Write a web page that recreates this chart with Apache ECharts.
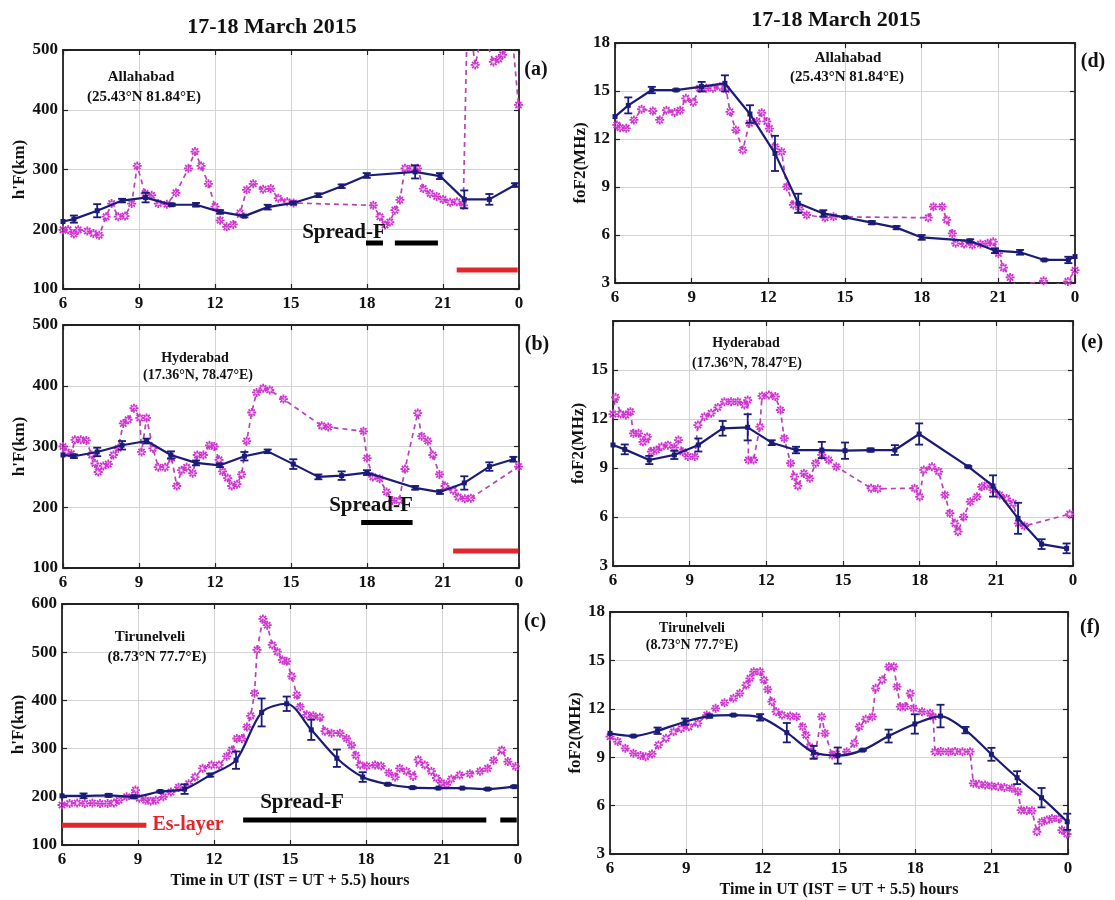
<!DOCTYPE html>
<html><head><meta charset="utf-8">
<script src="https://cdn.jsdelivr.net/npm/echarts@6/dist/echarts.min.js"></script>
<style>html,body{margin:0;padding:0;background:#fff}#c{width:1115px;height:900px}</style>
</head><body><div id="c"></div>
<script>
// ---------- DATA ----------
const xTicks = [6, 9, 12, 15, 18, 21, 24];
// Panel (a) Allahabad h'F
const blueA_t = [6.0, 6.43, 7.35, 8.33, 9.26, 10.29, 11.25, 12.2, 13.16, 14.08, 15.09, 16.08, 17.0, 17.99, 19.9, 20.88, 21.84, 22.83, 23.84];
const blueA_v = [213, 217, 231, 248, 253, 241, 241, 229, 222, 237, 244, 257, 272, 290, 296, 289, 250, 250, 274];
const blueA_e = [0, 6, 11, 3, 8, 2, 3, 3, 2, 4, 2, 3, 3, 4, 11, 5, 15, 9, 3];
const magA = [[6.0,199],[6.2,199],[6.43,192],[6.6,199],[6.96,197],[7.2,193],[7.43,190],[7.7,221],[7.92,243],[8.18,221],[8.45,222],[8.71,243],[8.93,306],[9.24,260],[9.5,257],[9.76,243],[10.1,242],[10.46,261],[10.95,302],[11.21,330],[11.45,306],[11.74,276],[12.0,238],[12.2,215],[12.46,204],[12.72,208],[12.99,227],[13.25,266],[13.51,276],[13.9,267],[14.2,268],[14.5,252],[14.85,246],[15.1,244],[18.25,240],[18.51,221],[18.71,207],[18.9,212],[19.1,232],[19.3,249],[19.5,302],[19.76,302],[20.0,302],[20.22,268],[20.49,260],[20.75,255],[21.0,250],[21.28,245],[21.55,246],[21.8,240],[21.94,520],[22.1,530],[22.27,475],[22.5,520],[22.75,510],[22.99,480],[23.2,485],[23.35,492],[23.55,520],[23.75,515],[23.98,408]];
const spreadA = [[17.96,18.63],[19.1,20.8]];
const redA = [[21.54,23.95]];
// Panel (b) Hyderabad h'F
const blueB_t = [6.0, 6.43, 7.35, 8.33, 9.3, 10.26, 11.25, 12.2, 13.16, 14.08, 15.09, 16.08, 17.0, 18.0, 19.9, 20.88, 21.84, 22.83, 23.78];
const blueB_v = [286, 284, 291, 302, 309, 286, 273, 269, 284, 292, 271, 250, 252, 257, 232, 225, 240, 267, 279];
const blueB_e = [0, 3, 7, 7, 4, 6, 4, 3, 7, 3, 8, 4, 7, 4, 3, 3, 11, 7, 4];
const magB = [[6.0,300],[6.13,291],[6.33,288],[6.47,311],[6.7,311],[6.92,310],[7.13,286],[7.26,272],[7.39,258],[7.59,268],[7.79,271],[7.99,286],[8.18,297],[8.38,338],[8.57,344],[8.8,363],[9.03,347],[9.1,291],[9.3,347],[9.55,297],[9.76,266],[10.03,266],[10.29,281],[10.49,235],[10.68,261],[10.88,266],[11.12,256],[11.3,286],[11.54,286],[11.78,302],[11.97,300],[12.16,278],[12.3,259],[12.5,248],[12.66,235],[12.87,238],[13.05,254],[13.25,309],[13.45,356],[13.64,389],[13.9,396],[14.16,393],[14.7,378],[16.21,334],[16.47,332],[17.86,325],[18.0,281],[18.23,250],[18.5,247],[18.77,225],[19.0,211],[19.27,211],[19.5,263],[20.0,355],[20.16,317],[20.4,309],[20.6,286],[20.86,254],[21.08,235],[21.4,228],[21.6,217],[21.86,214],[22.1,215],[23.98,267]];
const spreadB = [[17.77,19.8]];
const redB = [[21.4,23.98]];
// Panel (c) Tirunelveli h'F
const blueC_t = [6.0, 6.85, 7.84, 8.83, 9.88, 10.84, 11.85, 12.87, 13.88, 14.87, 15.84, 16.85, 17.87, 18.86, 19.84, 20.85, 21.8, 22.8, 23.85];
const blueC_v = [202, 202, 203, 200, 211, 216, 245, 276, 375, 393, 339, 280, 241, 226, 219, 218, 218, 216, 221];
const blueC_e = [0, 5, 3, 3, 2, 10, 3, 18, 29, 15, 21, 18, 10, 2, 2, 1, 1, 2, 2];
const magC = [[6.0,183],[6.3,186],[6.6,187],[6.9,186],[7.2,187],[7.5,186],[7.8,186],[8.05,187],[8.25,193],[8.55,200],[8.9,214],[9.05,197],[9.3,193],[9.5,191],[9.7,193],[10.0,200],[10.3,210],[10.6,220],[11.0,227],[11.25,241],[11.55,259],[11.9,266],[12.2,266],[12.5,284],[12.7,297],[12.9,321],[13.1,321],[13.3,345],[13.45,368],[13.6,415],[13.7,505],[13.93,569],[14.1,556],[14.3,515],[14.5,501],[14.7,484],[14.87,481],[15.07,450],[15.27,411],[15.4,387],[15.66,370],[15.92,368],[16.18,365],[16.38,336],[16.64,332],[16.97,332],[17.23,321],[17.43,307],[17.6,286],[17.77,266],[18.03,264],[18.36,266],[18.6,264],[18.9,250],[19.15,241],[19.33,259],[19.6,253],[19.86,242],[20.06,277],[20.32,266],[20.58,253],[20.78,239],[20.98,229],[21.18,225],[21.37,237],[21.7,245],[22.1,248],[22.5,253],[22.8,259],[23.04,276],[23.36,297],[23.6,273],[23.9,263]];
const spreadC = [[13.15,22.75],[23.3,23.95]];
const redC = [[6.0,9.33]];
// Panel (d) Allahabad foF2
const blueD_t = [6.0, 6.52, 7.44, 8.39, 9.39, 10.3, 11.28, 12.26, 13.17, 14.15, 15.0, 16.05, 17.02, 18.0, 19.9, 20.87, 21.85, 22.8, 23.74, 24.0];
const blueD_v = [13.4, 14.1, 15.06, 15.06, 15.27, 15.48, 13.56, 11.1, 7.98, 7.35, 7.1, 6.77, 6.46, 5.85, 5.63, 5.02, 4.92, 4.44, 4.44, 4.65];
const blueD_e = [0, 0.5, 0.2, 0.05, 0.3, 0.5, 0.55, 1.1, 0.6, 0.2, 0.05, 0.1, 0.1, 0.15, 0.1, 0.15, 0.15, 0.05, 0.2, 0];
const magD = [[6.07,12.88],[6.2,12.7],[6.44,12.67],[6.74,13.19],[7.04,13.86],[7.48,13.75],[7.75,13.19],[8.01,13.8],[8.33,13.66],[8.55,13.8],[8.77,14.54],[9.06,14.3],[9.31,15.17],[9.57,15.17],[9.83,15.17],[10.1,15.27],[10.35,15.1],[10.5,13.7],[10.73,12.56],[11.0,11.31],[11.26,12.98],[11.55,13.1],[11.74,13.64],[11.94,13.1],[12.04,12.65],[12.26,11.52],[12.52,11.2],[12.72,9.02],[12.98,7.88],[13.23,7.6],[13.5,7.25],[14.22,7.08],[14.55,7.14],[18.26,7.08],[18.46,7.77],[18.8,7.77],[18.98,6.94],[19.2,6.1],[19.33,5.48],[19.66,5.44],[19.98,5.38],[20.3,5.44],[20.58,5.48],[20.8,5.58],[21.0,4.85],[21.2,3.96],[21.46,3.35],[21.7,2.8],[22.77,3.14],[23.0,2.8],[23.72,3.1],[24.0,3.8]];
// Panel (e) Hyderabad foF2
const blueE_t = [6.0, 6.46, 7.42, 8.4, 9.34, 10.29, 11.27, 12.21, 13.16, 14.17, 15.08, 16.08, 17.03, 17.98, 19.9, 20.87, 21.85, 22.77, 23.75];
const blueE_v = [10.41, 10.14, 9.49, 9.8, 10.41, 11.43, 11.49, 10.55, 10.1, 10.1, 10.06, 10.1, 10.1, 11.08, 9.08, 7.9, 5.92, 4.34, 4.08];
const blueE_e = [0, 0.3, 0.25, 0.25, 0.4, 0.45, 0.8, 0.15, 0.2, 0.5, 0.5, 0.1, 0.3, 0.65, 0.05, 0.65, 0.95, 0.3, 0.3];
const magE = [[6.0,12.3],[6.1,13.33],[6.3,12.3],[6.5,12.25],[6.68,12.45],[6.8,11.12],[7.0,11.12],[7.17,10.6],[7.34,10.9],[7.5,10.0],[7.7,10.1],[7.9,10.3],[8.15,10.4],[8.4,10.25],[8.56,10.71],[8.73,10.0],[8.93,9.7],[9.2,9.7],[9.32,11.63],[9.58,12.14],[9.84,12.35],[10.1,12.71],[10.36,13.06],[10.62,13.06],[10.88,13.06],[11.14,12.86],[11.27,13.16],[11.3,9.49],[11.5,9.49],[11.75,11.53],[11.83,13.41],[12.1,13.47],[12.35,13.37],[12.55,12.55],[12.7,10.82],[12.95,9.29],[13.1,8.47],[13.23,7.9],[13.47,8.67],[13.7,8.37],[13.93,9.29],[14.17,9.8],[14.44,9.49],[14.74,9.08],[16.1,7.76],[16.36,7.73],[17.8,7.76],[18.0,7.24],[18.16,8.88],[18.48,9.08],[18.74,8.78],[18.99,7.35],[19.18,6.23],[19.38,5.61],[19.5,5.1],[19.72,6.0],[19.98,6.94],[20.24,7.24],[20.43,7.85],[20.63,7.95],[20.87,7.65],[21.13,7.35],[21.4,7.14],[21.66,6.84],[21.86,5.61],[22.1,5.45],[23.87,6.18]];
// Panel (f) Tirunelveli foF2
const blueF_t = [6.0, 6.92, 7.87, 8.95, 9.9, 10.85, 11.9, 12.95, 14.0, 14.95, 15.93, 16.95, 17.98, 18.99, 19.97, 20.99, 22.0, 22.96, 23.97];
const blueF_v = [10.48, 10.31, 10.64, 11.2, 11.55, 11.61, 11.47, 10.52, 9.3, 9.1, 9.44, 10.31, 11.06, 11.55, 10.68, 9.18, 7.73, 6.49, 5.0];
const blueF_e = [0, 0.05, 0.2, 0.2, 0.1, 0.05, 0.2, 0.6, 0.4, 0.5, 0.05, 0.4, 0.6, 0.7, 0.2, 0.4, 0.4, 0.6, 0.5];
const magF = [[6.0,10.27],[6.3,9.97],[6.6,9.55],[6.92,9.24],[7.2,9.1],[7.4,9.03],[7.65,9.2],[7.9,9.76],[8.2,10.17],[8.5,10.58],[8.8,10.78],[9.1,10.89],[9.45,11.1],[9.8,11.61],[10.15,12.03],[10.5,12.38],[10.85,12.65],[11.1,12.96],[11.35,13.47],[11.5,13.89],[11.65,14.3],[11.9,14.3],[12.05,13.79],[12.2,13.2],[12.36,12.44],[12.53,11.82],[12.76,11.61],[13.08,11.55],[13.33,11.51],[13.57,10.89],[13.7,10.37],[13.85,9.65],[14.05,9.13],[14.32,11.51],[14.45,10.48],[14.73,9.13],[14.9,9.2],[15.3,9.34],[15.6,9.86],[15.8,10.89],[16.05,11.35],[16.31,11.51],[16.44,13.27],[16.7,13.79],[16.96,14.61],[17.15,14.61],[17.28,13.37],[17.41,12.13],[17.6,12.13],[17.8,12.96],[17.93,12.03],[18.26,11.82],[18.58,11.72],[18.7,11.51],[18.77,9.34],[19.0,9.36],[19.3,9.34],[19.56,9.36],[19.85,9.34],[20.15,9.34],[20.28,7.38],[20.5,7.32],[20.74,7.28],[21.0,7.22],[21.26,7.17],[21.5,7.12],[21.79,7.07],[22.03,6.86],[22.16,5.72],[22.38,5.7],[22.58,5.68],[22.78,4.38],[22.97,5.0],[23.17,5.1],[23.37,5.2],[23.63,5.2],[23.76,4.48],[23.96,4.24]];

// ---------- STYLE ----------
const FONT = "'Liberation Serif','Times New Roman',serif";
const NAVY = '#1b1b78';
const MAG = '#d232d2';
const MAGLINE = '#b544b5';
const AST = 'path://M-1,-5L1,-5L1,5L-1,5Z M-5,-1L5,-1L5,1L-5,1Z M2.8,4.2L4.2,2.8L-2.8,-4.2L-4.2,-2.8Z M4.2,-2.8L2.8,-4.2L-4.2,2.8L-2.8,4.2Z';

const panels = [
  {grid:{left:63, top:50, width:456, height:239}, ymin:100, ymax:500, yint:100, yname:"h'F(km)", gap:32,
   bt:blueA_t, bv:blueA_v, be:blueA_e, mag:magA, spread:spreadA, spLvl:177, red:redA, redLvl:132},
  {grid:{left:63, top:325, width:456, height:243}, ymin:100, ymax:500, yint:100, yname:"h'F(km)", gap:32,
   bt:blueB_t, bv:blueB_v, be:blueB_e, mag:magB, spread:spreadB, spLvl:175, red:redB, redLvl:128},
  {grid:{left:62, top:604, width:456, height:241}, ymin:100, ymax:600, yint:100, yname:"h'F(km)", gap:32, smooth:true,
   bt:blueC_t, bv:blueC_v, be:blueC_e, mag:magC, spread:spreadC, spLvl:152, red:redC, redLvl:141, xname:true},
  {grid:{left:615, top:43, width:460, height:240}, ymin:3, ymax:18, yint:3, yname:"foF2(MHz)", gap:19,
   bt:blueD_t, bv:blueD_v, be:blueD_e, mag:magD},
  {grid:{left:613, top:321, width:460, height:245}, ymin:3, ymax:18, yint:3, yname:"foF2(MHz)", gap:19, hideTop:true,
   bt:blueE_t, bv:blueE_v, be:blueE_e, mag:magE},
  {grid:{left:610, top:612, width:458, height:242}, ymin:3, ymax:18, yint:3, yname:"foF2(MHz)", gap:19, smooth:true,
   bt:blueF_t, bv:blueF_v, be:blueF_e, mag:magF, xname:true}
];

const grids = [], xAxes = [], yAxes = [], series = [];
const axisLine = {show:true, lineStyle:{color:'#222', width:1.8}};
const tick = {show:true, inside:true, length:5, lineStyle:{color:'#222', width:1.2}};
const lbl = {fontFamily:FONT, fontWeight:'bold', fontSize:17, color:'#111'};

panels.forEach((p, i) => {
  grids.push(Object.assign({containLabel:false}, p.grid));
  xAxes.push({type:'value', gridIndex:i, min:6, max:24, interval:3, position:'bottom',
    axisLine, axisTick:tick,
    axisLabel:Object.assign({margin:6, formatter:v => v === 24 ? '0' : String(v)}, lbl),
    splitLine:{show:true, lineStyle:{color:'#d4d4d4', width:1}},
    name: p.xname ? 'Time in UT (IST = UT + 5.5) hours' : '', nameLocation:'middle', nameGap:28,
    nameTextStyle:{fontFamily:FONT, fontWeight:'bold', fontSize:16, color:'#111'}});
  xAxes.push({type:'value', gridIndex:i, min:6, max:24, interval:3, position:'top',
    axisLine, axisTick:tick, axisLabel:{show:false}, splitLine:{show:false}});
  yAxes.push({type:'value', gridIndex:i, min:p.ymin, max:p.ymax, interval:p.yint, position:'left',
    axisLine, axisTick:tick,
    axisLabel:Object.assign({margin:5, formatter:v => (p.hideTop && v === p.ymax) ? '' : String(v)}, lbl),
    splitLine:{show:true, lineStyle:{color:'#d4d4d4', width:1}},
    name:p.yname, nameLocation:'middle', nameRotate:90, nameGap:p.gap,
    nameTextStyle:{fontFamily:FONT, fontWeight:'bold', fontSize:17, color:'#111'}});
  yAxes.push({type:'value', gridIndex:i, min:p.ymin, max:p.ymax, interval:p.yint, position:'right',
    axisLine, axisTick:tick, axisLabel:{show:false}, splitLine:{show:false}});

  const xi = 2*i, yi = 2*i;
  (p.spread || []).forEach(s => series.push({type:'line', xAxisIndex:xi, yAxisIndex:yi, symbol:'none', silent:true,
    data:[[s[0], p.spLvl],[s[1], p.spLvl]], lineStyle:{color:'#000', width:5}, z:2}));
  (p.red || []).forEach(s => series.push({type:'line', xAxisIndex:xi, yAxisIndex:yi, symbol:'none', silent:true,
    data:[[s[0], p.redLvl],[s[1], p.redLvl]], lineStyle:{color:'#e3262b', width:5}, z:2}));
  series.push({type:'line', xAxisIndex:xi, yAxisIndex:yi, data:p.mag, clip:true,
    symbol:AST, symbolSize:9, showAllSymbol:true,
    itemStyle:{color:MAG}, lineStyle:{color:MAGLINE, width:1.7, type:[5,4]}, z:3});
  series.push({type:'line', xAxisIndex:xi, yAxisIndex:yi, data:p.bt.map((t,k)=>[t, p.bv[k]]),
    smooth: p.smooth ? 0.3 : false, clip:true,
    symbol:'rect', symbolSize:5, showAllSymbol:true,
    itemStyle:{color:NAVY}, lineStyle:{color:NAVY, width:2.2}, z:5});
  series.push({type:'custom', xAxisIndex:xi, yAxisIndex:yi, z:6,
    data:p.bt.map((t,k)=>[t, p.bv[k]-p.be[k], p.bv[k]+p.be[k], p.be[k]]).filter(d => d[3] > 0),
    encode:{x:0, y:[1,2]},
    renderItem:(params, api) => {
      const x = api.value(0);
      const lo = api.coord([x, api.value(1)]);
      const hi = api.coord([x, api.value(2)]);
      const w = 4, st = {stroke:NAVY, lineWidth:1.8};
      return {type:'group', children:[
        {type:'line', shape:{x1:lo[0], y1:lo[1], x2:hi[0], y2:hi[1]}, style:st},
        {type:'line', shape:{x1:lo[0]-w, y1:lo[1], x2:lo[0]+w, y2:lo[1]}, style:st},
        {type:'line', shape:{x1:hi[0]-w, y1:hi[1], x2:hi[0]+w, y2:hi[1]}, style:st}
      ]};
    }});
});

function txt(x, y, s, size, color) {
  return {type:'text', x, y, z:100, style:{text:s, fontFamily:FONT, fontWeight:'bold', fontSize:size,
    fill:color || '#111', align:'center', verticalAlign:'middle'}};
}
const graphic = [
  txt(272, 27, '17-18 March 2015', 22),
  txt(836, 20, '17-18 March 2015', 22),
  txt(141, 77, 'Allahabad', 15), txt(144, 97, '(25.43°N 81.84°E)', 15),
  txt(195, 358, 'Hyderabad', 14), txt(198, 375, '(17.36°N, 78.47°E)', 14),
  txt(150, 637, 'Tirunelveli', 15), txt(157, 657, '(8.73°N 77.7°E)', 15),
  txt(848, 58, 'Allahabad', 15), txt(847, 77, '(25.43°N 81.84°E)', 15),
  txt(746, 343, 'Hyderabad', 14), txt(747, 363, '(17.36°N, 78.47°E)', 14),
  txt(692, 628, 'Tirunelveli', 14), txt(692, 645, '(8.73°N 77.7°E)', 14),
  txt(344, 233, 'Spread-F', 21), txt(371, 506, 'Spread-F', 21), txt(302, 803, 'Spread-F', 21),
  txt(188, 825, 'Es-layer', 20, '#e3262b'),
  txt(536, 70, '(a)', 20), txt(537, 345, '(b)', 20), txt(535, 622, '(c)', 20),
  txt(1093, 62, '(d)', 20), txt(1092, 343, '(e)', 20), txt(1090, 628, '(f)', 20)
];

const chart = echarts.init(document.getElementById('c'), null, {renderer:'canvas'});
chart.setOption({animation:false, backgroundColor:'#fff', grid:grids, xAxis:xAxes, yAxis:yAxes, series, graphic});
</script></body></html>
